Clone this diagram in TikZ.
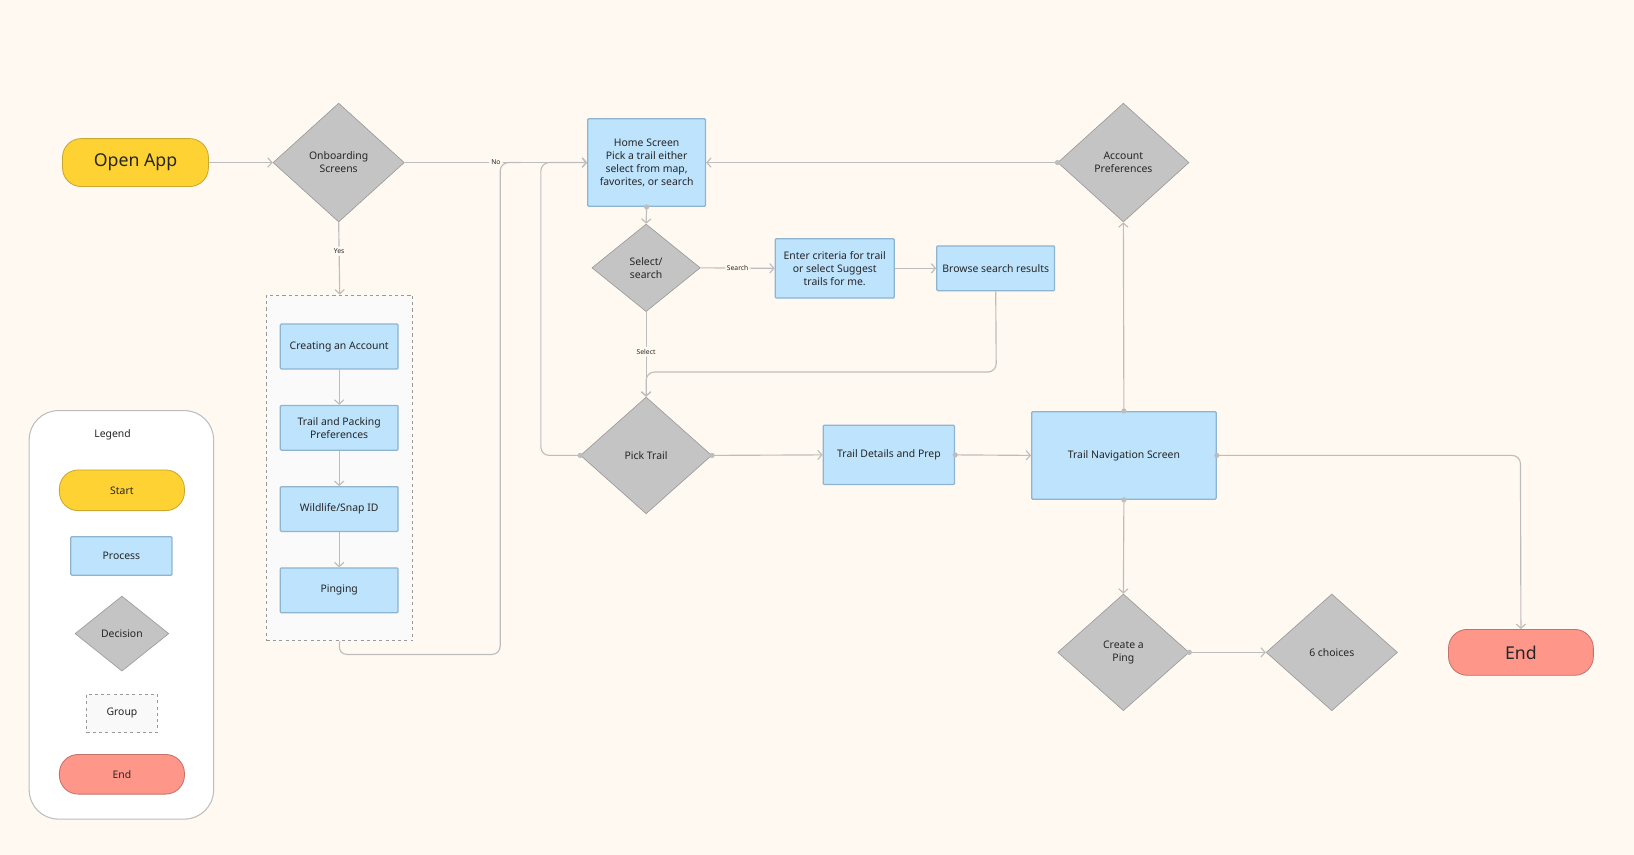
\documentclass[tikz,border=0pt]{standalone}
\usepackage{fontspec}
\setmainfont{Noto Sans}
\usetikzlibrary{arrows.meta,shapes.geometric}
\definecolor{bg}{HTML}{FFF9F1}
\definecolor{ln}{HTML}{BDBDBD}
\definecolor{yel}{HTML}{FFD233}
\definecolor{yelb}{HTML}{C9A830}
\definecolor{blu}{HTML}{BDE3FD}
\definecolor{blub}{HTML}{8FB4CF}
\definecolor{dgray}{HTML}{C4C4C4}
\definecolor{dgrayb}{HTML}{999999}
\definecolor{red}{HTML}{FF968A}
\definecolor{redb}{HTML}{C47268}
\tikzset{
 x=1pt,y=-1pt,
 txt/.style={font=\fontsize{10}{12.5}\selectfont,text=black!85,align=center},
 proc/.style={txt,draw=blub,fill=blu,line width=1.2pt,rounded corners=1pt,inner sep=0pt},
 dec/.style={txt,diamond,draw=dgrayb,fill=dgray,line width=0.6pt,inner sep=0pt},
 term/.style={draw=#1b,fill=#1,line width=0.8pt,rounded corners=18pt,inner sep=0pt,text=black!85},
 con/.style={draw=ln,line width=1.1pt,rounded corners=8pt,-{Straight Barb[length=4pt,width=9pt]}},
 conn/.style={draw=ln,line width=1.1pt,rounded corners=8pt},
 dot/.style={fill=ln,circle,inner sep=0pt,minimum size=5pt},
 lab/.style={font=\fontsize{6.5}{8}\selectfont,fill=bg,inner sep=2pt,text=black!85},
}
\newcommand{\bx}[6]{\node[#1,minimum width=#4-#3,minimum height=#6-#5] (#2) at ({(#3+#4)/2},{(#5+#6)/2})}
\begin{document}
\begin{tikzpicture}
\fill[bg] (0,0) rectangle (1568,820);
\useasboundingbox (0,0) rectangle (1568,820);
% legend
\draw[ln,fill=white,line width=1pt,rounded corners=28pt] (28,394) rectangle (205,786);
\node[txt,font=\fontsize{10}{12}\selectfont\bfseries] (lg) at (108,417) {Legend};
\bx{term=yel,txt}{lS}{57}{177}{451}{490} {Start};
\bx{proc}{lP}{68}{165}{515}{552} {Process};
\node[dec,minimum width=90,minimum height=72] (lD) at (117,608) {Decision};
\bx{txt,draw=dgrayb,dashed,fill=white!95!gray,line width=0.8pt}{lG}{83}{151}{666}{703} {Group};
\bx{term=red,txt}{lE}{57}{177}{724}{762} {End};
% main
\bx{term=yel,font=\fontsize{17}{20}\selectfont}{open}{60}{200}{133}{179} {Open App};
\node[dec,minimum width=126,minimum height=114,font=\fontsize{10}{12.5}\selectfont\bfseries] (onb) at (325,156) {Onboarding\\Screens};
\bx{draw=dgrayb,dashed,fill=white!96!gray,line width=0.8pt}{grp}{256}{396}{283}{615} {};
\bx{proc}{ca}{269}{382}{311}{354} {Creating an Account};
\bx{proc}{tp}{269}{382}{389}{432} {Trail and Packing\\Preferences};
\bx{proc}{ws}{269}{382}{467}{510} {Wildlife/Snap ID};
\bx{proc}{pg}{269}{382}{545}{588} {Pinging};
\bx{proc}{home}{564}{677}{114}{198} {Home Screen\\Pick a trail either\\select from map,\\favorites, or search};
\node[dec,minimum width=126,minimum height=114] (acc) at (1078,156) {Account\\Preferences};
\node[dec,minimum width=104,minimum height=84] (sel) at (620,257) {Select/\\search};
\bx{proc}{ent}{744}{858}{229}{286} {Enter criteria for trail\\or select Suggest\\trails for me.};
\bx{proc}{brw}{899}{1012}{236}{279} {Browse search results};
\node[dec,minimum width=126,minimum height=112] (pick) at (620,437) {Pick Trail};
\bx{proc}{tdp}{790}{916}{408}{465} {Trail Details and Prep};
\bx{proc}{nav}{990}{1167}{395}{479} {Trail Navigation Screen};
\node[dec,minimum width=126,minimum height=112] (cp) at (1078,626) {Create a\\Ping};
\node[dec,minimum width=126,minimum height=112] (six) at (1278,626) {6 choices};
\bx{term=red,font=\fontsize{17}{20}\selectfont}{end}{1390}{1529}{604}{648} {End};
% connectors
\draw[con] (open) -- (onb.west);
\draw[con] (onb.east) -- node[lab]{No} (home.west);
\draw[con] (onb.south) -- node[lab,pos=0.4]{Yes} (grp.north);
\draw[con] (ca) -- (tp);
\draw[con] (tp) -- (ws);
\draw[con] (ws) -- (pg);
\coordinate (g1) at (325,628); \coordinate (g2) at (480,628); \coordinate (g3) at (480,156);
\draw[conn] (grp.south) -- (g1) -- (g2) -- (g3) -- (500,156);
\coordinate (p1) at (519,437); \coordinate (p2) at (519,156);
\draw[con] (pick.west) -- (p1) -- (p2) -- (home.west);
\node[dot] at (pick.west) {};
\draw[con] (home.south) -- (sel.north); \node[dot] at (home.south) {};
\draw[con] (sel.east) -- node[lab]{Search} (ent.west);
\draw[con] (ent) -- (brw);
\draw[con] (sel.south) -- node[lab,pos=0.47]{Select} (pick.north);
\coordinate (b1) at (956,357); \coordinate (b2) at (620,357);
\draw[con] (brw.south) -- (b1) -- (b2) -- (pick.north);
\draw[con] (pick.east) -- (tdp.west); \node[dot] at (pick.east) {};
\draw[con] (tdp.east) -- (nav.west); \node[dot] at (tdp.east) {};
\draw[con] (nav.north) -- (acc.south); \node[dot] at (nav.north) {};
\draw[con] (acc.west) -- (home.east); \node[dot] at (acc.west) {};
\draw[con] (nav.south) -- (cp.north); \node[dot] at (nav.south) {};
\draw[con] (cp.east) -- (six.west); \node[dot] at (cp.east) {};
\coordinate (e1) at (1459,437);
\draw[con] (nav.east) -- (e1) -- (end.north); \node[dot] at (nav.east) {};
\end{tikzpicture}
\end{document}
